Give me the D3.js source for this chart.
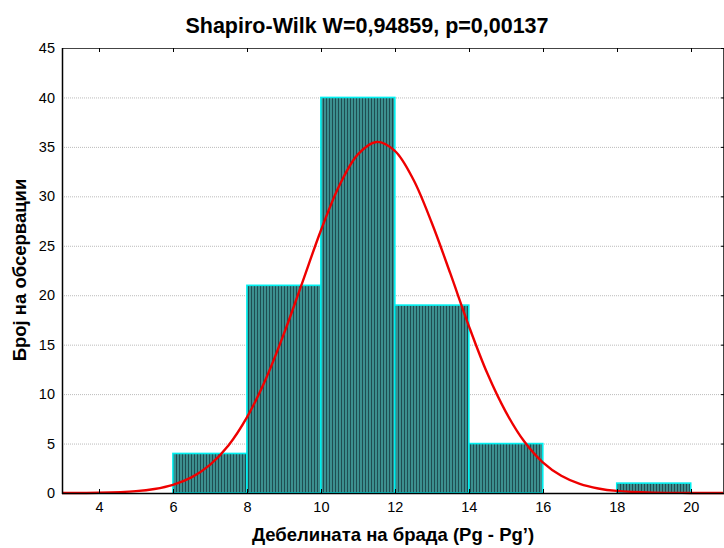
<!DOCTYPE html>
<html>
<head>
<meta charset="utf-8">
<script src="https://cdn.jsdelivr.net/npm/d3@7"></script>
<style>
    body { margin: 0; background: #fff; }
    svg { font-family: "Liberation Sans", Arial, sans-serif; }
</style>
</head>
<body>
<svg id="chart" width="724" height="548"></svg>
<script>
// Histogram bins (lower edge, upper edge) and counts.
const binStarts = [6, 8, 10, 12, 14, 16, 18];
const binEnds = [8, 10, 12, 14, 16, 18, 20];
const binCounts = [4, 21, 40, 19, 5, 0, 1];

// Expected normal curve.
const curveX = [3, 4, 5, 5.5, 6, 6.5, 7, 7.5, 8, 8.5, 9, 9.5, 10, 10.5, 11, 11.5,
    12, 12.5, 13, 13.5, 14, 14.5, 15, 15.5, 16, 16.5, 17, 17.5, 18, 19, 20, 21];
const curveY = [0.005, 0.03, 0.19, 0.41, 0.83, 1.58, 2.84, 4.8, 7.64, 11.43, 16.1, 21.3, 26.55, 31.1, 34.25, 35.5,
    34.6, 31.7, 27.3, 22.2, 16.9, 12.1, 8.2, 5.2, 3.1, 1.74, 0.92, 0.46, 0.21, 0.04, 0.005, 0.0005];

const xTicks = [4, 6, 8, 10, 12, 14, 16, 18, 20];
const yTicks = [0, 5, 10, 15, 20, 25, 30, 35, 40, 45];

const titleText = "Shapiro-Wilk W=0,94859, p=0,00137";
const xLabel = "Дебелината на брада (Pg - Pg’)";
const yLabel = "Број на обсервации";

// Layout of the plot box.
let plotLeft = 62, plotRight = 724, plotTop = 48, plotBottom = 493;

let svg = d3.select("#chart");

let x = d3.scaleLinear().domain([3, 20.9]).range([plotLeft, plotRight]);
let y = d3.scaleLinear().domain([0, 45]).range([plotBottom, plotTop]);

// Striped fill for the bars.
let defs = svg.append("defs");
let pat = defs.append("pattern")
    .attr("id", "stripes")
    .attr("patternUnits", "userSpaceOnUse")
    .attr("width", 3)
    .attr("height", 10);
pat.append("rect")
    .attr("width", 3).attr("height", 10)
    .attr("fill", "#3c8f8f");
pat.append("rect")
    .attr("x", 2).attr("width", 1).attr("height", 10)
    .attr("fill", "#1f4d52");

// Horizontal dotted grid.
svg.append("g")
    .selectAll("line")
    .data(yTicks.filter(d => d > 0 && d < 45))
    .enter()
    .append("line")
    .attr("x1", plotLeft).attr("x2", plotRight)
    .attr("y1", d => y(d) + 0.5).attr("y2", d => y(d) + 0.5)
    .attr("stroke", "#bbbbbb")
    .attr("stroke-width", 1)
    .attr("stroke-dasharray", "1,1");

// Bars.
svg.append("g")
    .selectAll("rect")
    .data(binCounts)
    .enter()
    .append("rect")
    .attr("x", (d, i) => x(binStarts[i]))
    .attr("y", d => y(d))
    .attr("width", (d, i) => x(binEnds[i]) - x(binStarts[i]))
    .attr("height", d => Math.max(y(0) - y(d), 0))
    .attr("fill", "url(#stripes)")
    .attr("stroke", "#00f0f0")
    .attr("stroke-width", 1.6);

// Normal curve.
let line = d3.line()
    .x((d, i) => x(curveX[i]))
    .y(d => y(d))
    .curve(d3.curveCatmullRom);

svg.append("path")
    .datum(curveY)
    .attr("d", line)
    .attr("fill", "none")
    .attr("stroke", "#ee0000")
    .attr("stroke-width", 2.4);

// Frame.
svg.append("rect")
    .attr("x", plotLeft + 0.5).attr("y", plotTop + 0.5)
    .attr("width", plotRight - plotLeft - 1).attr("height", plotBottom - plotTop)
    .attr("fill", "none")
    .attr("stroke", "#444")
    .attr("stroke-width", 1);
svg.append("line")
    .attr("x1", plotLeft + 0.5).attr("x2", plotLeft + 0.5)
    .attr("y1", plotTop).attr("y2", plotBottom + 1)
    .attr("stroke", "#000").attr("stroke-width", 1.5);
svg.append("line")
    .attr("x1", plotLeft).attr("x2", plotRight)
    .attr("y1", plotBottom + 0.5).attr("y2", plotBottom + 0.5)
    .attr("stroke", "#000").attr("stroke-width", 1.5);

// Axes.
let xAxis = d3.axisBottom(x).tickValues(xTicks).tickSize(0).tickPadding(9);
let gx = svg.append("g")
    .attr("transform", `translate(0,${plotBottom})`)
    .call(xAxis);
gx.select(".domain").remove();
gx.selectAll("text").attr("font-size", 14.5).attr("fill", "#000").attr("font-family", null);

let yAxis = d3.axisLeft(y).tickValues(yTicks).tickSize(0).tickPadding(7);
let gy = svg.append("g")
    .attr("transform", `translate(${plotLeft},0)`)
    .call(yAxis);
gy.select(".domain").remove();
gy.selectAll("text").attr("font-size", 14.5).attr("fill", "#000").attr("font-family", null);

// Inner tick marks, top and bottom.
let tickG = svg.append("g").attr("stroke", "#000");
[plotBottom, plotTop].forEach(function(yy) {
    tickG.selectAll(null)
        .data(xTicks)
        .enter()
        .append("line")
        .attr("x1", d => Math.round(x(d)) + 0.5).attr("x2", d => Math.round(x(d)) + 0.5)
        .attr("y1", yy)
        .attr("y2", yy == plotBottom ? yy - 4 : yy + 4);
});
// Right side ticks.
tickG.selectAll(null)
    .data(yTicks)
    .enter()
    .append("line")
    .attr("x1", plotRight - 3).attr("x2", plotRight)
    .attr("y1", d => y(d) + 0.5).attr("y2", d => y(d) + 0.5);

// Titles.
svg.append("text")
    .attr("x", 367).attr("y", 33)
    .attr("text-anchor", "middle")
    .attr("font-size", 21.5)
    .attr("font-weight", "bold")
    .text(titleText);

svg.append("text")
    .attr("x", 393).attr("y", 541)
    .attr("text-anchor", "middle")
    .attr("font-size", 18.5)
    .attr("font-weight", "bold")
    .text(xLabel);

svg.append("text")
    .attr("transform", "translate(26,270) rotate(-90)")
    .attr("text-anchor", "middle")
    .attr("font-size", 18.5)
    .attr("font-weight", "bold")
    .text(yLabel);
</script>
</body>
</html>
